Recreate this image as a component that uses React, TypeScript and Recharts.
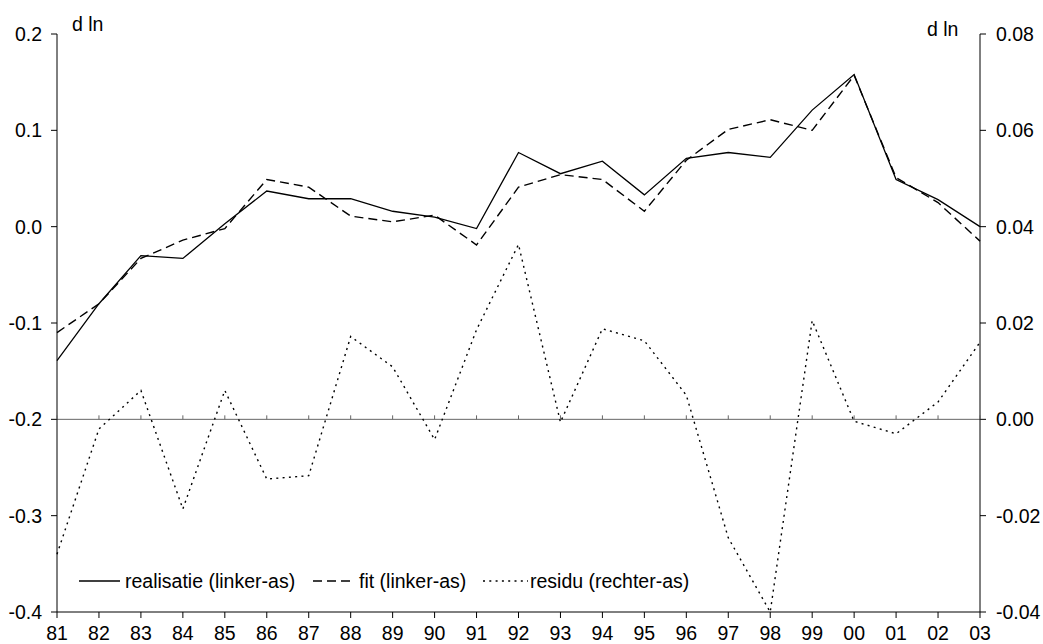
import React from 'react';
import { LineChart, Line, XAxis, YAxis, ReferenceLine, ReferenceDot } from 'recharts';

const years = ['81','82','83','84','85','86','87','88','89','90','91','92','93','94','95','96','97','98','99','00','01','02','03'];
const realisatie = [-0.139, -0.08, -0.03, -0.033, 0.003, 0.037, 0.029, 0.029, 0.016, 0.01, -0.002, 0.077, 0.055, 0.068, 0.033, 0.071, 0.077, 0.072, 0.121, 0.158, 0.049, 0.028, 0.0];
const fit = [-0.11, -0.08, -0.033, -0.014, -0.002, 0.049, 0.041, 0.011, 0.005, 0.012, -0.019, 0.041, 0.054, 0.049, 0.016, 0.069, 0.101, 0.111, 0.1, 0.157, 0.051, 0.025, -0.015];
const residu = [-0.028, -0.002, 0.006, -0.0186, 0.006, -0.0124, -0.0117, 0.0172, 0.0109, -0.0042, 0.0186, 0.0363, -0.0006, 0.0188, 0.0163, 0.005, -0.0246, -0.04, 0.0205, -0.0004, -0.003, 0.0036, 0.016];
const leftTicks = [0.2, 0.1, 0, -0.1, -0.2, -0.3, -0.4];
const rightTicks = [0.08, 0.06, 0.04, 0.02, 0, -0.02, -0.04];

const data = years.map((y, i) => ({ year: y, realisatie: realisatie[i], fit: fit[i], residu: residu[i] }));

const FONT = '"Liberation Sans", Arial, sans-serif';
const FS = 19.5;

const ZeroTick = (props: any) => {
  const { cx, cy } = props;
  if (cx == null || cy == null) return null;
  return <line x1={cx} y1={cy - 4} x2={cx} y2={cy} stroke="#666" strokeWidth={1} />;
};

export default function App() {
  return (
    <div style={{ position: 'absolute', left: 0, top: 0, width: 1043, height: 644, fontFamily: FONT, background: '#fff' }}>
      <LineChart width={1043} height={644} data={data} margin={{ top: 34, right: 0, left: 0, bottom: 0 }}>
        <XAxis
          dataKey="year"
          height={32}
          interval={0}
          tickSize={6}
          tickMargin={8}
          stroke="#000"
          tick={{ fill: '#000', fontSize: FS, fontFamily: FONT }}
          tickLine={{ stroke: '#000' }}
        />
        <YAxis
          yAxisId="left"
          width={57}
          domain={[-0.4, 0.2]}
          ticks={leftTicks}
          interval={0}
          tickSize={6}
          tickMargin={9}
          stroke="#000"
          tickFormatter={(v: number) => v.toFixed(1)}
          tick={{ fill: '#000', fontSize: FS, fontFamily: FONT }}
          allowDataOverflow
        />
        <YAxis
          yAxisId="right"
          orientation="right"
          width={63}
          domain={[-0.04, 0.08]}
          ticks={rightTicks}
          interval={0}
          tickSize={6}
          tickMargin={10}
          stroke="#000"
          tickFormatter={(v: number) => v.toFixed(2)}
          tick={{ fill: '#000', fontSize: FS, fontFamily: FONT, textAnchor: 'start' }}
          allowDataOverflow
        />
        <ReferenceLine yAxisId="right" y={0} stroke="#666" strokeWidth={1} />
        {years.map((y) => (
          <ReferenceDot key={y} yAxisId="right" x={y} y={0} r={0} shape={ZeroTick} />
        ))}
        <Line yAxisId="right" type="linear" dataKey="residu" stroke="#000" strokeWidth={1.4} strokeDasharray="2 4.3" dot={false} activeDot={false} isAnimationActive={false} />
        <Line yAxisId="left" type="linear" dataKey="fit" stroke="#000" strokeWidth={1.4} strokeDasharray="9 5" dot={false} activeDot={false} isAnimationActive={false} />
        <Line yAxisId="left" type="linear" dataKey="realisatie" stroke="#000" strokeWidth={1.3} dot={false} activeDot={false} isAnimationActive={false} />
      </LineChart>
      <svg width={1043} height={644} style={{ position: 'absolute', left: 0, top: 0, pointerEvents: 'none' }}>
        <text x={72} y={31} fontSize={FS} fontFamily={FONT} fill="#000">d ln</text>
        <text x={927} y={36} fontSize={FS} fontFamily={FONT} fill="#000">d ln</text>
        <line x1={79} y1={581} x2={120} y2={581} stroke="#000" strokeWidth={1.3} />
        <text x={125} y={588} fontSize={FS} fontFamily={FONT} fill="#000">realisatie (linker-as)</text>
        <line x1={313} y1={581} x2={354} y2={581} stroke="#000" strokeWidth={1.4} strokeDasharray="9 5" />
        <text x={359} y={588} fontSize={FS} fontFamily={FONT} fill="#000">fit (linker-as)</text>
        <line x1={483} y1={581} x2={528} y2={581} stroke="#000" strokeWidth={1.4} strokeDasharray="2 4.3" />
        <text x={530} y={588} fontSize={FS} fontFamily={FONT} fill="#000">residu (rechter-as)</text>
      </svg>
    </div>
  );
}
